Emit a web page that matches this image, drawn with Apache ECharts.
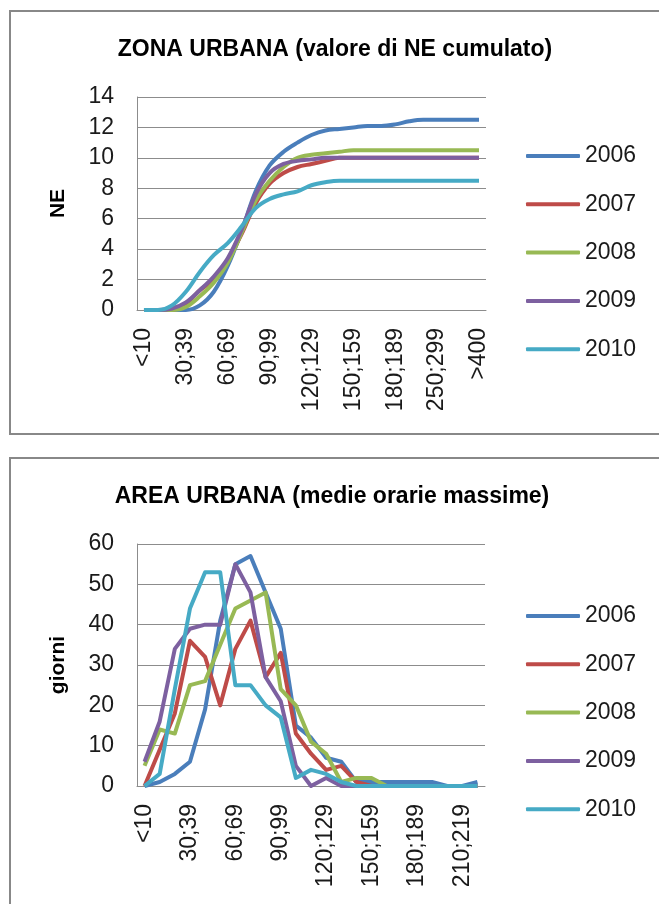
<!DOCTYPE html>
<html>
<head>
<meta charset="utf-8">
<script src="https://cdn.jsdelivr.net/npm/echarts@6/dist/echarts.min.js"></script>
<style>
  html, body { margin: 0; padding: 0; background: #fff; }
  #chart { width: 659px; height: 904px; }
</style>
</head>
<body>
<div id="chart"></div>
<script>
// Cumulative NE by concentration class (urban zone)
const neClasses = ['<10','10;19','20;29','30;39','40;49','50;59','60;69','70;79','80;89','90;99',
  '100;109','110;119','120;129','130;139','140;149','150;159','160;169','170;179','180;189',
  '190;199','200;249','250;299','300;349','350;399','>400'];
const ne2006 = [0,0,0,0,0.3,1.2,2.9,5.2,7.8,9.5,10.4,11.0,11.5,11.8,11.9,12.0,12.1,12.1,12.2,12.4,12.5,12.5,12.5,12.5,12.5];
const ne2007 = [0,0,0,0.4,1.3,2.0,3.3,5.0,7.0,8.3,9.0,9.4,9.6,9.8,10,10,10,10,10,10,10,10,10,10,10];
const ne2008 = [0,0,0,0.2,0.9,1.8,3.1,5.1,7.2,8.5,9.4,10.0,10.2,10.3,10.4,10.5,10.5,10.5,10.5,10.5,10.5,10.5,10.5,10.5,10.5];
const ne2009 = [0,0,0.1,0.5,1.3,2.2,3.4,5.3,7.6,9.0,9.6,9.8,9.9,10,10,10,10,10,10,10,10,10,10,10,10];
const ne2010 = [0,0,0.3,1.2,2.5,3.6,4.4,5.5,6.7,7.3,7.6,7.8,8.2,8.4,8.5,8.5,8.5,8.5,8.5,8.5,8.5,8.5,8.5,8.5,8.5];

// Days per class of maximum hourly mean (urban area)
const dayClasses = ['<10','10;19','20;29','30;39','40;49','50;59','60;69','70;79','80;89','90;99',
  '100;109','110;119','120;129','130;139','140;149','150;159','160;169','170;179','180;189',
  '190;199','200;209','210;219','220;229'];
const gg2006 = [0,1,3,6,19,41,55,57,48,39,15,12,7,6,1,1,1,1,1,1,0,0,1];
const gg2007 = [0,9,18,36,32,20,34,41,27,33,13,8,4,5,1,0,0,0,0,0,0,0,0];
const gg2008 = [5,14,13,25,26,35,44,46,48,24,20,11,8,1,2,2,0,0,0,0,0,0,0];
const gg2009 = [6,16,34,39,40,40,55,48,27,21,5,0,2,0,0,0,0,0,0,0,0,0,0];
const gg2010 = [0,3,24,44,53,53,25,25,20,17,2,4,3,1,0,0,0,0,0,0,0,0,0];

const years = ['2006','2007','2008','2009','2010'];
const colors = ['#4A7EBB','#BE4B48','#98B954','#7D60A0','#46AAC5'];

const FONT = '"Liberation Sans", Arial, sans-serif';
const TXT = '#1a1a1a';
const GRID = '#8c8c8c';

function xAxisFor(gridIndex, cats) {
  return {
    type: 'category', gridIndex, data: cats, boundaryGap: true,
    axisLine: { show: true, lineStyle: { color: GRID, width: 1 } },
    axisTick: { show: false },
    axisLabel: { interval: 2, rotate: 90, margin: 18, color: TXT, fontFamily: FONT, fontSize: 23 }
  };
}
function yAxisFor(gridIndex, max, step, name) {
  return {
    type: 'value', gridIndex, min: 0, max, interval: step,
    name, nameLocation: 'middle', nameRotate: 90, nameGap: 68,
    nameTextStyle: { color: '#000', fontFamily: FONT, fontSize: 21, fontWeight: 'bold' },
    axisLine: { show: true, lineStyle: { color: GRID, width: 1 } },
    axisTick: { show: false },
    axisLabel: { margin: 23, color: TXT, fontFamily: FONT, fontSize: 23 },
    splitLine: { show: true, lineStyle: { color: GRID, width: 1 } }
  };
}
function legendFor(top, names) {
  return {
    orient: 'vertical', left: 526, top, data: names, padding: 0,
    icon: 'roundRect', itemWidth: 54, itemHeight: 4, itemGap: 24.3,
    textStyle: { color: TXT, fontFamily: FONT, fontSize: 23, lineHeight: 24, padding: [0, 0, 0, 0] },
    selectedMode: false
  };
}

const neSets = [ne2006, ne2007, ne2008, ne2009, ne2010];
const ggSets = [gg2006, gg2007, gg2008, gg2009, gg2010];

const series = [];
neSets.forEach((d, i) => series.push({
  name: years[i], type: 'line', xAxisIndex: 0, yAxisIndex: 0, data: d,
  smooth: 0.35, symbol: 'none', color: colors[i],
  lineStyle: { width: 4, color: colors[i] }
}));
ggSets.forEach((d, i) => series.push({
  name: years[i] + ' ', type: 'line', xAxisIndex: 1, yAxisIndex: 1, data: d,
  smooth: false, symbol: 'none', color: colors[i],
  lineStyle: { width: 4, color: colors[i], join: 'round' }
}));

const chart = echarts.init(document.getElementById('chart'), null, { renderer: 'canvas' });
chart.setOption({
  animation: false,
  backgroundColor: '#fff',
  graphic: [
    { type: 'rect', shape: { x: 10, y: 11, width: 700, height: 423 },
      style: { fill: 'none', stroke: '#888', lineWidth: 2 }, silent: true },
    { type: 'rect', shape: { x: 10, y: 458, width: 700, height: 500 },
      style: { fill: 'none', stroke: '#888', lineWidth: 2 }, silent: true },
    { type: 'text', x: 335, y: 50, silent: true,
      style: { text: 'ZONA URBANA (valore di NE cumulato)', align: 'center', verticalAlign: 'middle',
        font: 'bold 23px ' + FONT, fill: '#000' } },
    { type: 'text', x: 332, y: 497, silent: true,
      style: { text: 'AREA URBANA (medie orarie massime)', align: 'center', verticalAlign: 'middle',
        font: 'bold 23px ' + FONT, fill: '#000' } }
  ],
  grid: [
    { left: 137, top: 97, width: 349, height: 213, containLabel: false },
    { left: 137, top: 544, width: 348, height: 242, containLabel: false }
  ],
  xAxis: [xAxisFor(0, neClasses), xAxisFor(1, dayClasses)],
  yAxis: [yAxisFor(0, 14, 2, 'NE'), yAxisFor(1, 60, 10, 'giorni')],
  legend: [
    legendFor(144, years),
    legendFor(604, years.map(y => y + ' '))
  ],
  series
});
</script>
</body>
</html>
